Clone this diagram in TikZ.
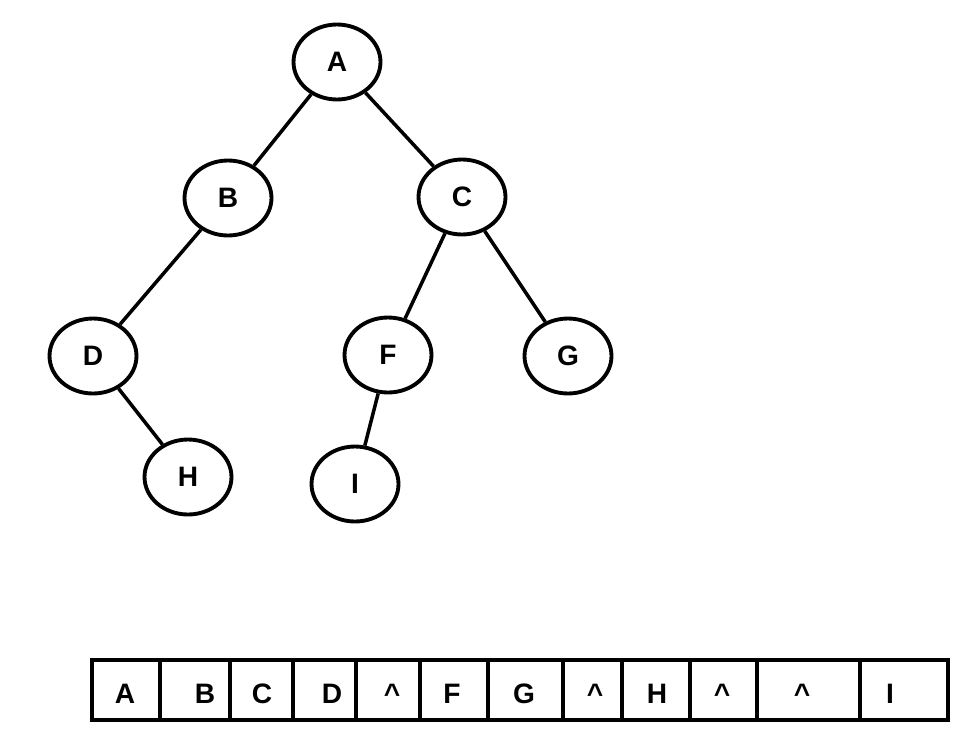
\documentclass[tikz,border=0pt]{standalone}
\usepackage{fontspec}
\setmainfont{Liberation Sans}
\usetikzlibrary{shapes.geometric}
\tikzset{
  treenode/.style={draw, ellipse, line width=2.2pt, minimum width=1.74cm, minimum height=1.5cm, inner sep=0pt, font=\fontsize{16}{18}\selectfont\bfseries},
  edge/.style={line width=2pt},
  cell/.style={font=\fontsize{16}{18}\selectfont\bfseries}
}
\begin{document}
\begin{tikzpicture}[x=0.02cm, y=-0.02cm]
  \useasboundingbox (0,0) rectangle (969,737);
  % tree
  \node[treenode] (A) at (337,62) {A};
  \node[treenode] (B) at (228,198) {B};
  \node[treenode] (C) at (462,197) {C};
  \node[treenode] (D) at (93,356) {D};
  \node[treenode] (F) at (388,355) {F};
  \node[treenode] (G) at (568,356) {G};
  \node[treenode] (H) at (188,477) {H};
  \node[treenode] (I) at (355,484) {I};
  \draw[edge] (A) -- (B);
  \draw[edge] (A) -- (C);
  \draw[edge] (B) -- (D);
  \draw[edge] (C) -- (F);
  \draw[edge] (C) -- (G);
  \draw[edge] (D) -- (H);
  \draw[edge] (F) -- (I);
  % array
  \draw[line width=2.2pt] (92,660) rectangle (948,720);
  \foreach \x in {160,230,293,356,420,488,563,622,690,757,860}
    \draw[line width=2pt] (\x,660) -- (\x,722);
  \foreach \x/\t/\n in {125/A/a1, 205/B/a2, 262/C/a3, 332/D/a4, 392/\textasciicircum/a5,
      452/F/a6, 524/G/a7, 595/\textasciicircum/a8, 657/H/a9, 722/\textasciicircum/a10,
      802/\textasciicircum/a11, 890/I/a12}
    \node[cell] (\n) at (\x,694) {\t};
\end{tikzpicture}
\end{document}
